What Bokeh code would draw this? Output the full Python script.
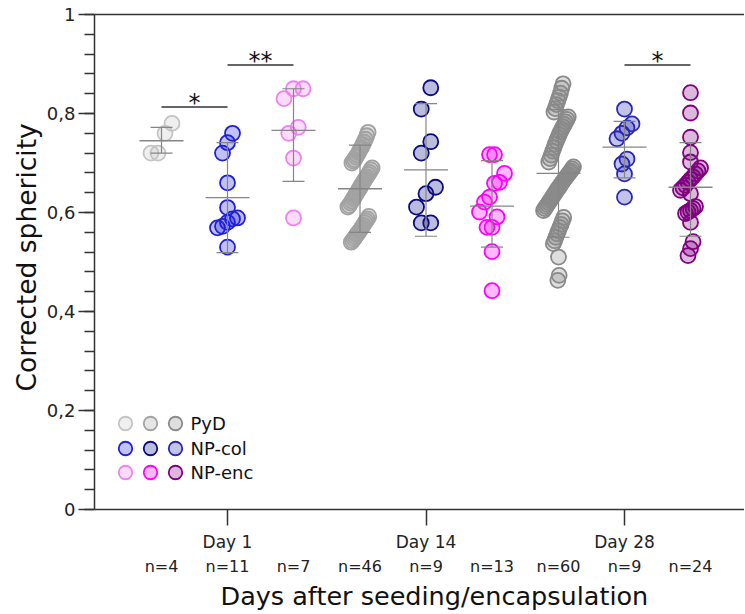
from bokeh.plotting import figure
from bokeh.models import Range1d, FixedTicker, LinearAxis, CustomJSTickFormatter, Title
from bokeh.core.properties import value
from bokeh.embed import file_html
from bokeh.resources import INLINE

FONT = "DejaVu Sans"

# ---------------- data ----------------
days = ["Day 1", "Day 14", "Day 28"]
series = ["PyD", "NP-col", "NP-enc"]

# each group: list of sub-clusters (sorted values); n = total points
pyd_day1 = [[0.72, 0.72, 0.76, 0.78]]
npcol_day1 = [[0.53], [0.569, 0.572, 0.58, 0.587, 0.589], [0.61], [0.66], [0.72, 0.741, 0.76]]
npenc_day1 = [[0.589], [0.71], [0.76, 0.772], [0.83, 0.85, 0.85]]

pyd_day14 = [
    [0.540, 0.543, 0.547, 0.551, 0.555, 0.558, 0.562, 0.566, 0.570, 0.574, 0.579, 0.583, 0.587, 0.592],
    [0.611, 0.614, 0.619, 0.623, 0.628, 0.632, 0.637, 0.641, 0.646, 0.650, 0.655, 0.659, 0.664,
     0.668, 0.672, 0.677, 0.681, 0.686, 0.690],
    [0.700, 0.704, 0.707, 0.712, 0.716, 0.721, 0.727, 0.731, 0.737, 0.742, 0.748, 0.755, 0.762],
]
npcol_day14 = [[0.579, 0.579], [0.611, 0.638, 0.651], [0.72, 0.743], [0.809, 0.852]]
npenc_day14 = [[0.442], [0.521], [0.57, 0.57, 0.591], [0.601, 0.621, 0.631, 0.659, 0.661, 0.679], [0.717, 0.717]]

pyd_day28 = [
    [0.463, 0.473], [0.51],
    [0.537, 0.543, 0.550, 0.557, 0.563, 0.570, 0.576, 0.583, 0.590],
    [0.604, 0.608, 0.612, 0.616, 0.620, 0.624, 0.628, 0.632, 0.636, 0.640, 0.644, 0.648,
     0.651, 0.655, 0.659, 0.663, 0.667, 0.670, 0.674, 0.677, 0.681, 0.684, 0.688, 0.692],
    [0.702, 0.709, 0.716, 0.724, 0.731, 0.738, 0.745, 0.751, 0.757, 0.763, 0.768, 0.773,
     0.778, 0.783, 0.788, 0.793],
    [0.803, 0.810, 0.818, 0.826, 0.833, 0.841, 0.851, 0.860],
]
npcol_day28 = [[0.631], [0.678], [0.698, 0.708], [0.749, 0.760, 0.771, 0.779], [0.809]]
npenc_day28 = [[0.513, 0.527, 0.541], [0.58], [0.598, 0.601, 0.604, 0.608, 0.612], [0.638],
               [0.645, 0.650, 0.655, 0.661, 0.667, 0.672, 0.678, 0.684, 0.690],
               [0.702], [0.721], [0.752], [0.801], [0.842]]

groups = {
    "PyD": [pyd_day1, pyd_day14, pyd_day28],
    "NP-col": [npcol_day1, npcol_day14, npcol_day28],
    "NP-enc": [npenc_day1, npenc_day14, npenc_day28],
}

# mean and whisker (SD) ends, per series and day
means = {"PyD": [0.745, 0.648, 0.679], "NP-col": [0.630, 0.686, 0.732], "NP-enc": [0.766, 0.613, 0.651]}
lows = {"PyD": [0.720, 0.560, 0.550], "NP-col": [0.519, 0.552, 0.670], "NP-enc": [0.663, 0.530, 0.552]}
highs = {"PyD": [0.772, 0.736, 0.808], "NP-col": [0.741, 0.820, 0.784], "NP-enc": [0.850, 0.705, 0.741]}

# significance comparisons: (day index, series a, series b, label)
comparisons = [(0, "PyD", "NP-col", "*"), (0, "NP-col", "NP-enc", "**"), (2, "NP-col", "NP-enc", "*")]

x_title = "Days after seeding/encapsulation"
y_title = "Corrected sphericity"

# ---------------- styles ----------------
line_colors = {
    "PyD": ["#c4c4c4", "#a2a2a2", "#8a8a8a"],
    "NP-col": ["#2020d8", "#0b0b82", "#2828b4"],
    "NP-enc": ["#ee82ee", "#ff00ff", "#820082"],
}
jitter_step_px = {"PyD": [7, 1.35, 1.3], "NP-col": [5, 9.5, 5], "NP-enc": [9.5, 5, 2.5]}

W, H = 744, 613
LEFT, TOP = 94, 14
FRAME_H = 495
BOTTOM = H - TOP - FRAME_H
FRAME_W = W - LEFT
PX_PER_DAY = 198.5
X0 = 1 - 133 / PX_PER_DAY
X1 = X0 + FRAME_W / PX_PER_DAY
GOFF = 66 / PX_PER_DAY


def px(v):
    return v / PX_PER_DAY


def ypx(v):
    return v / FRAME_H


p = figure(width=W, height=H, output_backend="svg", toolbar_location=None,
           x_range=Range1d(X0, X1), y_range=Range1d(0, 1),
           min_border_left=LEFT, min_border_right=0, min_border_top=TOP, min_border_bottom=BOTTOM)
p.outline_line_color = None
p.xgrid.visible = False
p.ygrid.visible = False
p.background_fill_color = "white"
p.border_fill_color = "white"

AX_COL = "#333333"

# y axis
p.yaxis.ticker = FixedTicker(ticks=[i / 5 for i in range(6)], minor_ticks=[i * 0.04 for i in range(26)])
p.yaxis.formatter = CustomJSTickFormatter(code="""
if (Math.abs(tick) < 1e-9) return '0';
if (Math.abs(tick - 1) < 1e-9) return '1';
return tick.toFixed(1).replace('.', ',');
""")
p.yaxis.axis_line_color = AX_COL
p.yaxis.axis_line_width = 1.5
p.yaxis.major_tick_line_color = AX_COL
p.yaxis.major_tick_line_width = 1.5
p.yaxis.minor_tick_line_color = AX_COL
p.yaxis.minor_tick_line_width = 1.5
p.yaxis.major_tick_out = 16
p.yaxis.major_tick_in = 0
p.yaxis.minor_tick_out = 10
p.yaxis.minor_tick_in = 0
p.yaxis.major_label_text_font = FONT
p.yaxis.major_label_text_font_size = "18px"
p.yaxis.major_label_text_color = "#222222"
p.yaxis.major_label_standoff = 3

# y title (placed as a side title so it can be positioned along the axis)
p.add_layout(Title(text=y_title, align="left", offset=118, text_font=FONT, text_font_size="26.5px",
                   text_font_style="normal", text_color="#111111", standoff=4), "left")

# x axis (days)
p.xaxis.ticker = FixedTicker(ticks=[1, 2, 3], minor_ticks=[])
p.xaxis.formatter = CustomJSTickFormatter(args=dict(labels=days), code="return labels[Math.round(tick) - 1];")
p.xaxis.axis_line_color = AX_COL
p.xaxis.axis_line_width = 1.5
p.xaxis.major_tick_line_color = AX_COL
p.xaxis.major_tick_line_width = 1.5
p.xaxis.major_tick_out = 16
p.xaxis.major_tick_in = 0
p.xaxis.major_label_text_font = FONT
p.xaxis.major_label_text_font_size = "17px"
p.xaxis.major_label_text_color = "#222222"
p.xaxis.major_label_standoff = 6

# top border line
top = LinearAxis(ticker=FixedTicker(ticks=[]), axis_line_color=AX_COL, axis_line_width=1.5,
                 major_tick_line_color=None, minor_tick_line_color=None,
                 major_label_text_font_size="0px")
p.add_layout(top, "above")

# second bottom axis: n per group
n_pos, n_lab = [], []
for d in range(3):
    for si, s in enumerate(series):
        n_pos.append((d + 1) + (si - 1) * GOFF)
        n_lab.append("n=%d" % sum(len(cl) for cl in groups[s][d]))
nax = LinearAxis(ticker=FixedTicker(ticks=n_pos, minor_ticks=[]),
                 formatter=CustomJSTickFormatter(args=dict(pos=n_pos, labels=n_lab), code="""
let best = 1e9, k = 0;
for (let j = 0; j < pos.length; j++) { const dd = Math.abs(pos[j] - tick); if (dd < best) { best = dd; k = j; } }
return labels[k];
"""),
                 axis_line_color=None, major_tick_line_color=None, minor_tick_line_color=None,
                 major_tick_out=0, major_tick_in=0, major_label_standoff=2,
                 major_label_text_font=FONT, major_label_text_font_size="16px",
                 major_label_text_color="#222222")
p.add_layout(nax, "below")

# x title
p.add_layout(Title(text=x_title, align="left", offset=126, text_font=FONT, text_font_size="25.5px",
                   text_font_style="normal", text_color="#111111", standoff=1), "below")

# ---------------- points ----------------
for d in range(3):
    for si, s in enumerate(series):
        xc = (d + 1) + (si - 1) * GOFF
        step = px(jitter_step_px[s][d])
        xs, ys = [], []
        for cl in groups[s][d]:
            k = len(cl)
            for r, v in enumerate(sorted(cl)):
                xs.append(xc + (r - (k - 1) / 2) * step)
                ys.append(v)
        c = line_colors[s][d]
        p.scatter(xs, ys, marker="circle", size=15, line_color=c, line_width=1.8,
                  fill_color=c, fill_alpha=0.28)

# mean and SD lines
ERR_COL = "#858585"
for d in range(3):
    for si, s in enumerate(series):
        xc = (d + 1) + (si - 1) * GOFF
        m, lo, hi = means[s][d], lows[s][d], highs[s][d]
        p.segment(x0=[xc], y0=[lo], x1=[xc], y1=[hi], line_color=ERR_COL, line_width=1.2)
        p.segment(x0=[xc - px(22)], y0=[m], x1=[xc + px(22)], y1=[m], line_color=ERR_COL, line_width=1.3)
        p.segment(x0=[xc - px(11), xc - px(11)], y0=[lo, hi], x1=[xc + px(11), xc + px(11)], y1=[lo, hi],
                  line_color=ERR_COL, line_width=1.2)

# significance brackets
bracket_y = [0.813, 0.898, 0.898]
for (d, a, b, lab), by in zip(comparisons, bracket_y):
    xa = (d + 1) + (series.index(a) - 1) * GOFF
    xb = (d + 1) + (series.index(b) - 1) * GOFF
    p.segment(x0=[xa], y0=[by], x1=[xb], y1=[by], line_color="#333333", line_width=1.5)
    p.text(x=[(xa + xb) / 2], y=[by + ypx(4)], text=[lab], text_font=value(FONT), text_font_size="24px",
           text_align="center", text_baseline="alphabetic", text_color="#111111")

# legend
leg_x = [1 + px(v - 227) for v in (125, 150, 175)]
leg_y = [ypx(509 - v) for v in (423, 448, 472)]
for si, s in enumerate(series):
    for d in range(3):
        c = line_colors[s][d]
        p.scatter([leg_x[d]], [leg_y[si]], marker="circle", size=13.5, line_color=c, line_width=1.8,
                  fill_color=c, fill_alpha=0.28)
    p.text(x=[1 + px(190 - 227)], y=[leg_y[si]], text=[s], text_font=value(FONT), text_font_size="18px",
           text_align="left", text_baseline="middle", text_color="#111111")

open("out.html", "w").write(file_html(p, INLINE))
